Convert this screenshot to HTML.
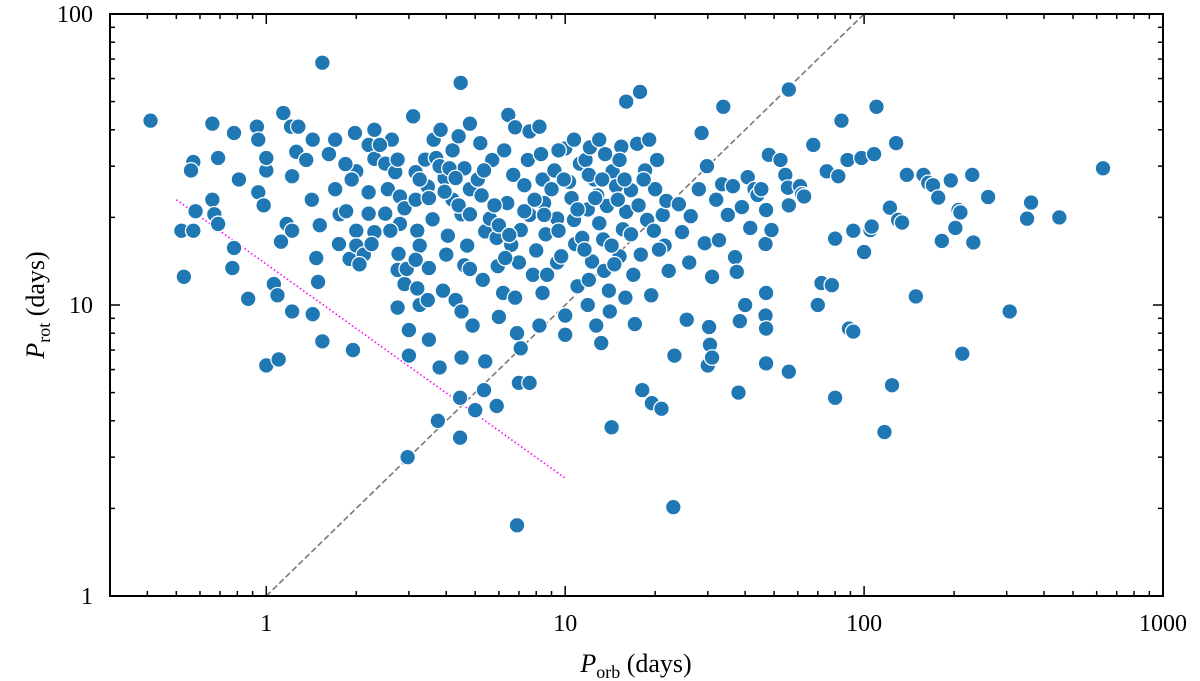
<!DOCTYPE html>
<html><head><meta charset="utf-8"><style>
html,body{margin:0;padding:0;background:#fff;}
svg{display:block;font-family:"Liberation Serif",serif;}
</style></head><body>
<svg id="chart" width="1200" height="681">
<rect width="1200" height="681" fill="#fff"/>
<g id="grid"></g>
<g id="lines"></g>
<g id="pts"></g>
<rect x="110" y="14" width="1053" height="582" fill="none" stroke="#000" stroke-width="2"/>
<g id="ticks"></g>
<text x="636" y="672" text-anchor="middle" font-size="26"><tspan font-style="italic">P</tspan><tspan font-size="18" dy="6">orb</tspan><tspan dy="-6"> (days)</tspan></text>
<text transform="translate(44,305) rotate(-90)" text-anchor="middle" font-size="26"><tspan font-style="italic">P</tspan><tspan font-size="18" dy="6">rot</tspan><tspan dy="-6"> (days)</tspan></text>
</svg>
<script>
const porb=[0.41,1.54,4.47,0.52,0.53,0.57,0.56,0.58,0.57,0.66,0.69,0.66,0.67,0.69,0.78,0.81,0.78,0.77,0.87,0.93,0.94,0.94,0.98,1.0,1.0,1.0,1.1,1.06,1.09,1.12,1.14,1.21,1.28,1.22,1.17,1.22,1.22,1.26,1.36,1.43,1.42,1.47,1.43,1.49,1.54,1.51,1.62,1.7,1.7,1.76,1.75,1.85,1.95,1.9,1.98,2.0,1.93,2.0,2.0,2.12,2.2,2.3,2.3,2.2,2.2,2.3,2.25,2.5,2.55,2.5,2.7,2.63,2.8,2.8,2.77,2.75,2.75,2.9,2.95,2.9,3.0,3.0,2.97,3.1,3.16,3.16,3.2,3.26,3.16,3.2,3.26,3.4,3.47,3.6,3.5,3.47,3.5,3.63,3.7,3.83,3.8,3.75,3.95,4.0,3.9,4.05,4.2,4.2,4.3,4.4,4.5,4.5,4.45,4.45,4.5,4.6,4.7,4.6,4.8,4.8,5.0,4.9,5.2,5.25,5.3,5.4,5.4,5.35,5.6,5.7,5.9,5.9,5.95,6.0,6.2,6.25,6.45,6.4,6.6,6.7,6.8,6.8,6.9,7.0,6.9,7.0,7.1,7.1,7.3,7.5,7.6,7.6,7.8,8.0,8.2,8.3,8.4,8.4,8.5,8.6,8.2,7.6,9.2,9.4,9.4,9.7,10,10,10,10.3,10.5,10.7,10.8,11,11.2,11.4,11.7,11.9,11.9,12.1,12.3,12.5,12.7,12.8,13,13.2,13.4,13.5,13.6,13.8,14,14.1,14.3,14.4,14.8,15.2,15.4,15.6,15.9,16,16,17.8,16.6,16.9,17.1,17.4,17.9,18.1,18.5,18.8,19.1,19.4,19.5,20,20.3,21,21.2,21.5,21.8,22.2,23.2,23,24,24.6,25.5,26,26.3,28,28.6,29.3,29.8,30.3,30.5,30,31,31,32,32.7,33.5,33.8,35,36.4,37,37.5,38,38.4,39,40,40.8,41.6,43,44,45.3,47,46.8,46.8,47,47,47,48,49,52.5,54.5,55.6,56,56,56,61,62,63,67.6,70,72,75,80,78,80,82,84,88,89,92,92,98,100,105,106,108,110,117,122,124,128,130,134,139,149,158,164,170,177,182,195,207,202,210,213,230,232,260,307,351,362,450,630,
3.8,4.1,3.95,4.3,4.4,4.8,5.1,5.35,5.8,6,6.5,6.3,7.3,7.9,8.5,9,9.5,9.9,11,11.6,12,12.6,13.3,14.3,15,15.8,16.6,17.6,18.3,19.8,20.6,14.6,12,8.7,4.8,3.5,3.26,2.6,2.75,2.4,1.84,2.05,15.2,13,10.7,9.5];
const prot=[43,68,58,18,12.5,31,29,21,18,42,32,23,20.5,19,39,27,15.7,13.4,10.5,41,37,24.4,22,29,32,6.2,6.5,11.8,10.8,16.5,45.7,41,41,27.7,19,18,9.5,33.6,31.5,37,23,14.5,9.3,12,7.5,18.8,33,37,25,20.5,16.2,21,7,14.4,39,28.8,27,18,16,14.9,35.5,40,31.8,24.4,20.6,17.8,16.2,20.6,25,30.6,28.6,37,23.6,19,15,13.2,9.8,11.8,13.3,21.5,8.2,6.7,3.0,44.5,28.6,23,18,16,14.3,11.4,10,31.6,25.5,19.7,13.4,10.4,7.6,37,32,40,6.1,4.0,27.3,14.9,11.2,17.3,23,34,10.4,38,9.5,6.6,4.8,3.5,20.5,29.5,16,13.7,42,25,4.35,8.5,36,23.8,12.2,17.9,6.4,5.1,19.8,31.5,17,4.5,13.6,9.1,11,34,45,22.4,16.1,28,40.8,10.6,8.0,14,1.75,5.4,7.1,18.1,25.8,31.5,39.5,20.4,12.7,15.4,41,33,27,11,22.4,17.5,8.5,5.4,29,19.8,14,14.7,9.2,7.9,34.5,26.5,23.3,19.6,16.2,11.6,30.6,17,31.5,21.3,10.0,34.8,14.1,27,8.5,23.8,19.1,7.4,16.8,13.1,33,21.9,11.2,9.5,3.8,28.8,25.6,14.7,35,18.2,10.6,20.9,50,54,24.8,12.7,8.6,35.8,14.9,5.1,29,19.6,37,10.8,4.6,25,31.5,4.4,20.4,16,22.8,13.1,6.7,2.02,22.2,17.8,8.9,14,20.2,25,39,16.3,30,8.4,7.3,6.2,12.5,6.6,23,16.7,26,48,20.4,25.6,14.6,13,5.0,8.8,21.7,10,27.5,18.4,25,23.9,25,21.2,16.2,9.2,8.3,6.3,11,32.8,18.1,31.5,28,25.3,55,5.9,22,25.6,24,23.6,35.5,10,11.9,28.8,16.9,11.7,4.8,27.7,43,31.5,8.3,8.1,18,32,15.2,18.1,18.6,33,48,3.66,21.6,5.3,36,19.6,19.2,28,10.7,28,26.3,25.8,23.4,16.6,26.8,21.2,18.4,20.8,6.8,28,16.4,23.5,9.5,19.8,22.5,20,29.5,
30,29.5,24.5,27.3,22,20.5,27,29,22,18.8,17.4,14.5,21,23,20.4,25,18,27,21.3,15.5,28,23.3,27,16,23,27,17.5,22,27,18,15.5,13.8,12.2,12.7,13.3,23.3,27,18,31.6,35.5,30.5,13.8,31.5,37,37,34];
const xTickVals=[1,10,100,1000];
const xTickLabels=["1","10","100","1000"];
const yTickVals=[1,10,100];
const yTickLabels=["1","10","100"];
const diagX=[1,100], diagY=[1,100];
const fitX=[0.5,10], fitY=[23,2.54];

const L=110,R=1163,T=14,B=596;
const xmin=Math.log10(0.3),xmax=3,ymin=0,ymax=2;
const sx=v=>L+(Math.log10(v)-xmin)/(xmax-xmin)*(R-L);
const sy=v=>B-(Math.log10(v)-ymin)/(ymax-ymin)*(B-T);
const NS="http://www.w3.org/2000/svg";
function mk(tag,attrs,parent){const e=document.createElementNS(NS,tag);for(const k in attrs)e.setAttribute(k,attrs[k]);parent.appendChild(e);return e;}
const ticks=document.getElementById('ticks');
// x ticks
for(let d=-1;d<=3;d++){for(let m=1;m<10;m++){const v=m*Math.pow(10,d);if(v<0.3||v>1000)continue;const x=sx(v);const len=m===1?10:5;
 const t1=mk('line',{x1:x,y1:B,x2:x,y2:B-len,stroke:'#000','stroke-width':1.5},ticks);
 
 
 const t2=mk('line',{x1:x,y1:T,x2:x,y2:T+len,stroke:'#000','stroke-width':1.5},ticks);
 
 }}
xTickVals.forEach((v,i)=>{const t=mk('text',{x:sx(v),y:631,'text-anchor':'middle','font-size':24},ticks);t.textContent=xTickLabels[i];
 
 });
for(let d=0;d<=2;d++){for(let m=1;m<10;m++){const v=m*Math.pow(10,d);if(v>100)continue;const y=sy(v);const len=m===1?10:5;
 const t1=mk('line',{x1:L,y1:y,x2:L+len,y2:y,stroke:'#000','stroke-width':1.5},ticks);
 
 
 const t2=mk('line',{x1:R,y1:y,x2:R-len,y2:y,stroke:'#000','stroke-width':1.5},ticks);
 
 }}
yTickVals.forEach((v,i)=>{const t=mk('text',{x:93,y:sy(v)+8,'text-anchor':'end','font-size':24},ticks);t.textContent=yTickLabels[i];
 
 });
// lines
const lines=document.getElementById('lines');
const dl=mk('line',{x1:sx(diagX[0]),y1:sy(diagY[0]),x2:sx(diagX[1]),y2:sy(diagY[1]),stroke:'#777','stroke-width':1.6,'stroke-dasharray':'6,3'},lines);


const fl=mk('line',{x1:sx(fitX[0]),y1:sy(fitY[0]),x2:sx(fitX[1]),y2:sy(fitY[1]),stroke:'#ff00ff','stroke-width':1.6,'stroke-dasharray':'1.5,2.5'},lines);


// points
const pts=document.getElementById('pts');
const n=Math.min(porb.length,prot.length);
for(let i=0;i<n;i++){const c=mk('circle',{cx:sx(porb[i]),cy:sy(prot[i]),r:7.8,fill:'#1f77b4',stroke:'#fff','stroke-width':1.3},pts);
 
 }
</script>
</body></html>
